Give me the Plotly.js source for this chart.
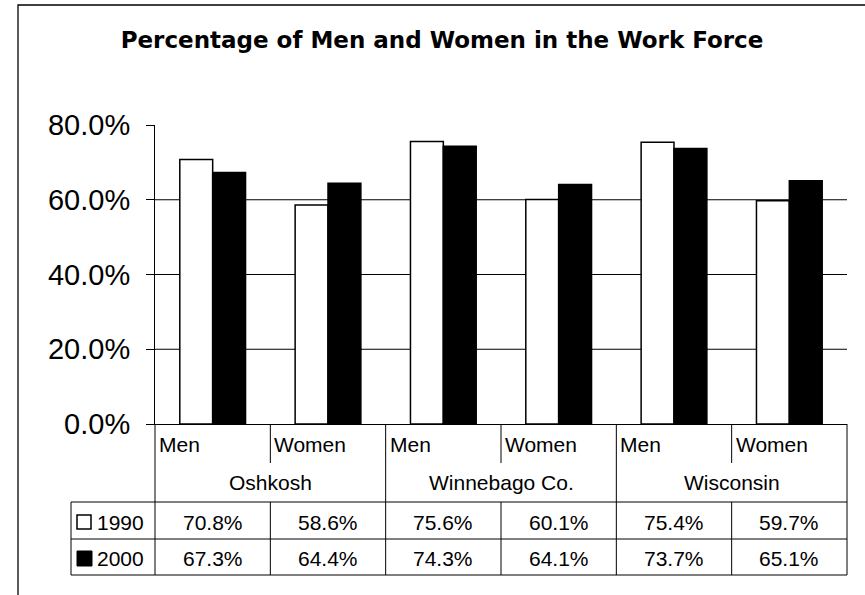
<!DOCTYPE html>
<html><head><meta charset="utf-8">
<script src="https://cdn.plot.ly/plotly-3.0.1.min.js"></script>
<style>html,body{margin:0;padding:0;background:#fff}#chart{width:865px;height:595px}</style>
</head><body><div id="chart"></div>
<script>
// ---- data ----
const subcategories = ['Men', 'Women', 'Men', 'Women', 'Men', 'Women'];
const groups = ['Oshkosh', 'Winnebago Co.', 'Wisconsin'];
const seriesNames = ['1990', '2000'];
const values1990 = [70.8, 58.6, 75.6, 60.1, 75.4, 59.7];
const values2000 = [67.3, 64.4, 74.3, 64.1, 73.7, 65.1];
const yTickVals = [0, 20, 40, 60, 80];
const yTickText = ['0.0%', '20.0%', '40.0%', '60.0%', '80.0%'];
const gridVals = [20, 40, 60];
const titleText = 'Percentage of Men and Women in the Work Force';

// ---- geometry ----
const W = 865, H = 595, L = 155, R = 18, T = 125, B = 171;
const PW = W - L - R, PH = H - T - B;
const pyY = Y => (H - B - Y) / PH;      // pixel y -> paper y
const pxX = X => (X - L) / PW;          // pixel x -> paper x
const xRange = [-0.5, subcategories.length - 0.5];
const dataToPaperX = v => (v - xRange[0]) / (xRange[1] - xRange[0]);
const xs = subcategories.map((_, i) => i);

const rowSubBottom = 463, rowGroupBottom = 502, row1Bottom = 539, row2Bottom = 575;
const legendLeft = 71;
const tableFont = {family: 'Liberation Sans, Arial, sans-serif', size: 21, color: '#000'};
const lineStyle = {color: '#000', width: 1};

const traces = [
  {type: 'bar', name: seriesNames[0], x: xs, y: values1990,
   marker: {color: '#fff', line: {color: '#000', width: 1.5}}, hoverinfo: 'y'},
  {type: 'bar', name: seriesNames[1], x: xs, y: values2000,
   marker: {color: '#000', line: {color: '#000', width: 1.5}}, hoverinfo: 'y'}
];

const shapes = [];
const vline = (xp, y0, y1) => shapes.push({type: 'line', xref: 'paper', yref: 'paper',
  x0: xp, x1: xp, y0: y0, y1: y1, line: lineStyle});
const hline = (yp, x0, x1) => shapes.push({type: 'line', xref: 'paper', yref: 'paper',
  x0: x0, x1: x1, y0: yp, y1: yp, line: lineStyle});

// gridlines
gridVals.forEach(v => shapes.push({type: 'line', xref: 'paper', yref: 'y', x0: 0, x1: 1,
  y0: v, y1: v, line: lineStyle, layer: 'below'}));

// table horizontals
[rowGroupBottom, row1Bottom, row2Bottom].forEach(Y => hline(pyY(Y), pxX(legendLeft), 1));
// table verticals
vline(0, 0, pyY(row2Bottom));
vline(pxX(legendLeft), pyY(rowGroupBottom), pyY(row2Bottom));
groups.forEach((g, gi) => vline(dataToPaperX(2 * gi + 1.5), 0, pyY(row2Bottom)));
groups.forEach((g, gi) => {
  const xp = dataToPaperX(2 * gi + 0.5);
  vline(xp, 0, pyY(rowSubBottom));
  vline(xp, pyY(rowGroupBottom), pyY(row2Bottom));
});

// legend keys in table
shapes.push({type: 'rect', xref: 'paper', yref: 'paper', x0: pxX(77), x1: pxX(91),
  y0: pyY(529), y1: pyY(515), fillcolor: '#fff', line: {color: '#000', width: 1.5}});
shapes.push({type: 'rect', xref: 'paper', yref: 'paper', x0: pxX(77), x1: pxX(92),
  y0: pyY(566), y1: pyY(551), fillcolor: '#000', line: {color: '#000', width: 1}});

// outer border
shapes.push({type: 'rect', xref: 'paper', yref: 'paper', x0: pxX(18), x1: pxX(885),
  y0: pyY(615), y1: pyY(5), fillcolor: 'rgba(0,0,0,0)', line: {color: '#000', width: 1.3}});

const annotations = [];
subcategories.forEach((s, i) => annotations.push({xref: 'x', yref: 'paper', x: i - 0.5,
  xanchor: 'left', xshift: 2, y: pyY(444), yanchor: 'middle', text: s, showarrow: false, font: tableFont}));
groups.forEach((g, gi) => annotations.push({xref: 'x', yref: 'paper', x: 2 * gi + 0.5,
  xanchor: 'center', y: pyY(482), yanchor: 'middle', text: g, showarrow: false, font: tableFont}));
[values1990, values2000].forEach((vals, si) => vals.forEach((v, i) => annotations.push({
  xref: 'x', yref: 'paper', x: i, xanchor: 'center', y: pyY(si === 0 ? 522 : 558), yanchor: 'middle',
  text: v.toFixed(1) + '%', showarrow: false, font: tableFont})));
seriesNames.forEach((n, si) => annotations.push({xref: 'paper', yref: 'paper', x: pxX(95),
  xanchor: 'left', y: pyY(si === 0 ? 522 : 558), yanchor: 'middle', text: n, showarrow: false, font: tableFont}));

const layout = {
  width: W, height: H,
  margin: {l: L, r: R, t: T, b: B, pad: 0},
  paper_bgcolor: '#fff', plot_bgcolor: '#fff',
  showlegend: false,
  bargap: 0.43, bargroupgap: 0, barmode: 'group',
  title: {text: titleText, xref: 'container', yref: 'container', x: 442 / W, xanchor: 'center',
    y: 1 - 40 / H, yanchor: 'middle',
    font: {family: 'DejaVu Sans, sans-serif', size: 23, weight: 'bold', color: '#000'}},
  xaxis: {range: xRange, showticklabels: false, ticks: '', showgrid: false, zeroline: false,
    showline: true, linecolor: '#000', linewidth: 1, fixedrange: true},
  yaxis: {range: [0, 80], tickmode: 'array', tickvals: yTickVals, ticktext: yTickText,
    ticks: 'outside', ticklen: 8, tickwidth: 1, tickcolor: '#000', ticklabelstandoff: 10,
    showgrid: false, zeroline: false, showline: true, linecolor: '#000', linewidth: 1,
    tickfont: {family: 'Liberation Sans, Arial, sans-serif', size: 29, color: '#000'}, fixedrange: true},
  shapes: shapes,
  annotations: annotations
};

Plotly.newPlot('chart', traces, layout, {displayModeBar: false, staticPlot: true});
</script>
</body></html>
